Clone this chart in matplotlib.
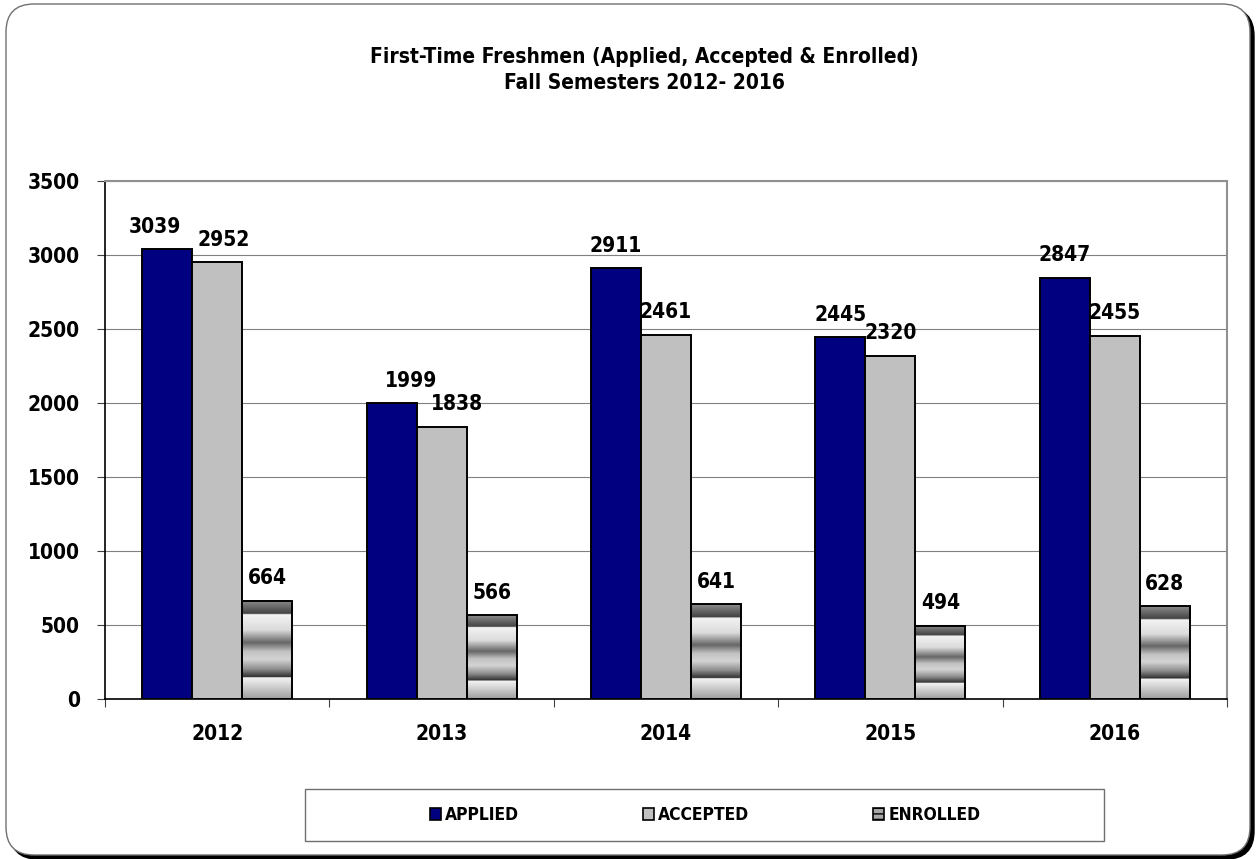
import numpy as np
import matplotlib
matplotlib.use("Agg")
import matplotlib.pyplot as plt
from matplotlib.patches import FancyBboxPatch, Rectangle, Patch
from matplotlib.transforms import IdentityTransform

# 数据
years = ["2012", "2013", "2014", "2015", "2016"]
applied = [3039, 1999, 2911, 2445, 2847]
accepted = [2952, 1838, 2461, 2320, 2455]
enrolled = [664, 566, 641, 494, 628]

plt.rcParams["font.family"] = ["DejaVu Sans"]
plt.rcParams["font.stretch"] = "condensed"
plt.rcParams["font.weight"] = "bold"

W, H = 1259, 859
BAR_W = 0.223

# 数据标签的水平微调(单位: 点), 照原图 Excel 的摆放
NUDGE_APPLIED = [-9, 14, 0, 0, 0]
NUDGE_ACCEPTED = [5, 11, 0, 0, 0]
NUDGE_ENROLLED = [0, 0, 0, 0, 0]

# enrolled 柱子的灰度渐变 (从上到下)
GRAD_POS = [0.0, 0.14, 0.141, 0.30, 0.43, 0.52, 0.60, 0.70, 0.78, 0.781, 1.0]
GRAD_VAL = [0.55, 0.25, 0.95, 0.86, 0.40, 0.76, 0.83, 0.55, 0.18, 0.96, 0.62]


def main():
    fig = plt.figure(figsize=(W / 100, H / 100), dpi=100)

    draw_frame(fig)

    ax = fig.add_axes([105 / W, 1 - 699 / H, (1227 - 105) / W, (699 - 181) / H])
    ax.set_zorder(2)
    ax.patch.set_alpha(0)
    plot_bars(ax)

    fig.text(644 / W, 1 - 57 / H, "First-Time Freshmen (Applied, Accepted & Enrolled)",
             ha="center", va="center", fontsize=15, fontweight="bold", zorder=3)
    fig.text(644 / W, 1 - 83 / H, "Fall Semesters 2012- 2016",
             ha="center", va="center", fontsize=15, fontweight="bold", zorder=3)

    draw_legend(fig)

    fig.savefig("out.png", dpi=100)


def draw_frame(fig):
    ''' 圆角外框和阴影 '''
    x0, y0, x1, y1 = 6, 4, 1250, 855
    r = 28
    shadow = FancyBboxPatch((x0 + 4 + r, H - y1 - 4 + r), (x1 - x0) - 2 * r, (y1 - y0) - 2 * r,
                            boxstyle=f"round,pad={r}", transform=IdentityTransform(),
                            facecolor="black", edgecolor="black", zorder=0)
    box = FancyBboxPatch((x0 + r, H - y1 + r), (x1 - x0) - 2 * r, (y1 - y0) - 2 * r,
                         boxstyle=f"round,pad={r}", transform=IdentityTransform(),
                         facecolor="white", edgecolor="#707070", linewidth=1.0, zorder=0.5)
    fig.patches.extend([shadow, box])


def gradient_column(n=200):
    t = np.linspace(0, 1, n)
    return np.interp(t, GRAD_POS, GRAD_VAL).reshape(-1, 1)


def plot_bars(ax):
    x = np.arange(len(years))
    ax.set_axisbelow(True)

    ax.bar(x - BAR_W, applied, BAR_W, color="#000080", edgecolor="black", linewidth=1.4, zorder=3)
    ax.bar(x, accepted, BAR_W, color="#C0C0C0", edgecolor="black", linewidth=1.4, zorder=3)

    grad = gradient_column()
    for xi, v in zip(x + BAR_W, enrolled):
        ax.imshow(grad, extent=[xi - BAR_W / 2, xi + BAR_W / 2, 0, v], origin="upper",
                  cmap="gray", vmin=0, vmax=1, aspect="auto", interpolation="bilinear", zorder=2.5)
    ax.bar(x + BAR_W, enrolled, BAR_W, facecolor="none", edgecolor="black", linewidth=1.4, zorder=3)

    # 数据标签
    series = ((-BAR_W, applied, NUDGE_APPLIED),
              (0, accepted, NUDGE_ACCEPTED),
              (BAR_W, enrolled, NUDGE_ENROLLED))
    for offs, vals, nudges in series:
        for xi, v, dx in zip(x + offs, vals, nudges):
            ax.annotate(str(v), (xi, v), xytext=(dx, 9), textcoords="offset points",
                        ha="center", va="bottom", fontsize=15, fontweight="bold")

    ax.set_xlim(-0.5, len(years) - 0.5)
    ax.set_ylim(0, 3500)
    ax.set_yticks(np.arange(0, 3501, 500))
    ax.yaxis.grid(True, color="#808080", linewidth=0.8)

    ax.set_xticks(x)
    ax.set_xticklabels(years)
    ax.set_xticks(np.arange(-0.5, len(years)), minor=True)
    ax.tick_params(axis="x", which="major", length=0, pad=18, labelsize=15)
    ax.tick_params(axis="x", which="minor", length=6, width=0.8, color="#404040", direction="out")
    ax.tick_params(axis="y", length=6, width=0.8, color="#404040", pad=12, labelsize=15)

    for s in ("top", "right"):
        ax.spines[s].set_color("#909090")
        ax.spines[s].set_linewidth(1.5)
    for s in ("left", "bottom"):
        ax.spines[s].set_color("black")
        ax.spines[s].set_linewidth(1.2)


def draw_legend(fig):
    ''' 图例 '''
    rect = Rectangle((305 / W, 1 - 841 / H), (1104 - 305) / W, (841 - 789) / H,
                     transform=fig.transFigure, facecolor="white", edgecolor="#707070",
                     linewidth=1.0, zorder=1)
    fig.patches.append(rect)

    handles = [
        Patch(facecolor="#000080", edgecolor="black", linewidth=1.2, label="APPLIED"),
        Patch(facecolor="#C0C0C0", edgecolor="black", linewidth=1.2, label="ACCEPTED"),
        Patch(facecolor="#A8A8A8", edgecolor="black", linewidth=1.2, hatch="---", label="ENROLLED"),
    ]
    leg = fig.legend(handles=handles, loc="center left", bbox_to_anchor=(414 / W, 1 - 815 / H),
                     ncol=3, frameon=False, handlelength=0.65, handleheight=0.65,
                     handletextpad=0.25, columnspacing=7.1, prop={"weight": "bold", "size": 12.5})
    leg.set_zorder(5)


if __name__ == "__main__":
    main()
